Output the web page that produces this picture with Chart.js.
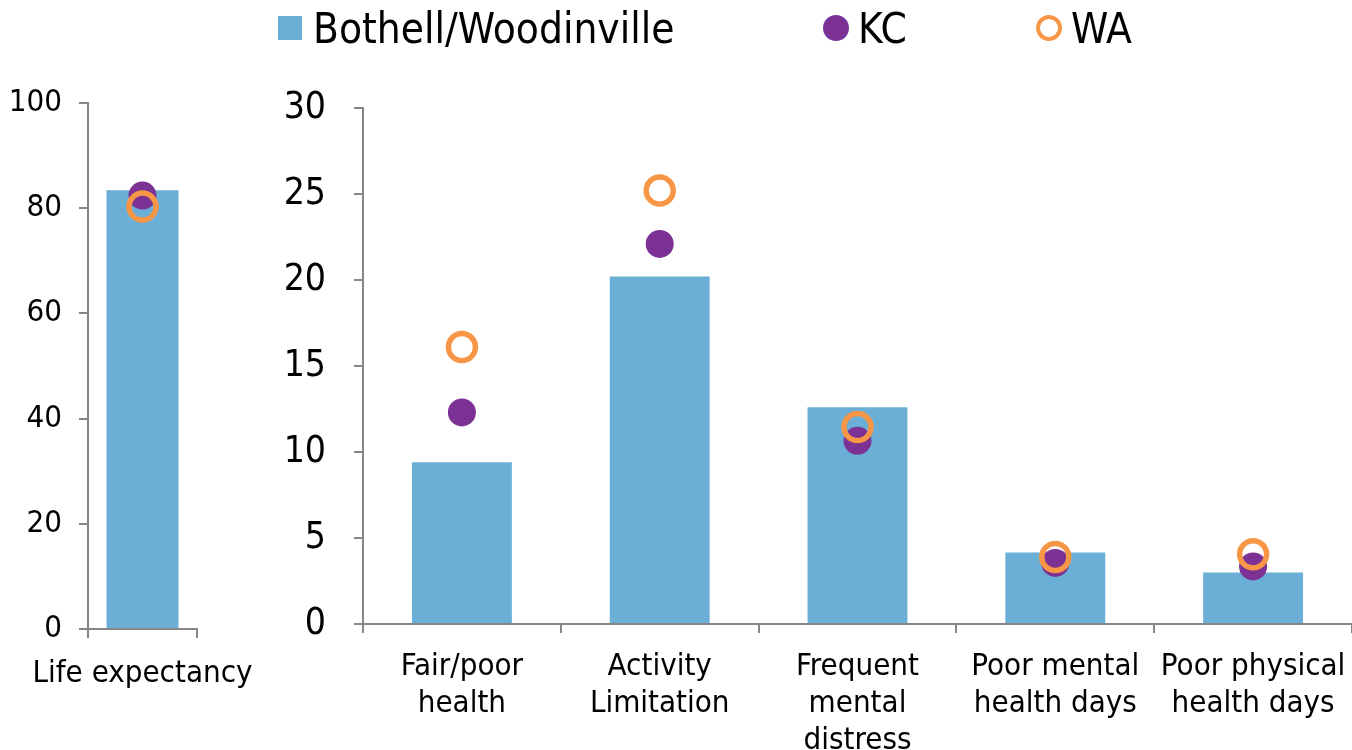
<!DOCTYPE html>
<html>
<head>
<meta charset="utf-8">
<script src="https://cdn.jsdelivr.net/npm/chart.js@4"></script>
<style>
  body { margin: 0; background: #fff; font-family: 'Liberation Sans Narrow', 'DejaVu Sans Condensed', 'Liberation Sans', sans-serif; }
  #wrap { position: relative; width: 1352px; height: 750px; overflow: hidden; }
  #leftBox { position: absolute; left: 0; top: 0; width: 270px; height: 750px; }
  #rightBox { position: absolute; left: 270px; top: 0; width: 1082px; height: 750px; }
  #legend { position: absolute; left: 0; top: 0; width: 1352px; height: 56px; }
  .item { position: absolute; top: 4px; display: flex; align-items: center; height: 48px; font-size: 42px; color: #000; }
  .box { width: 24px; height: 24px; background: #6baed6; margin-right: 11px; }
  .dot { width: 26px; height: 26px; border-radius: 50%; background: #7b3294; margin-right: 9px; }
  .ring { width: 18px; height: 18px; border-radius: 50%; border: 4px solid #f79646; margin-right: 9px; }
</style>
</head>
<body>
<div id="wrap">
  <div id="leftBox"><canvas id="leftChart"></canvas></div>
  <div id="rightBox"><canvas id="rightChart"></canvas></div>
  <div id="legend"></div>
</div>
<script>
// series names
const seriesNames = ['Bothell/Woodinville', 'KC', 'WA'];

// left panel: life expectancy (years)
const lifeLabels = ['Life expectancy'];
const lifeBothell = [83.4];
const lifeKC = [82.4];
const lifeWA = [80.3];
const lifeTicks = [0, 20, 40, 60, 80, 100];

// right panel: percent / days
const categories = [
  ['Fair/poor', 'health'],
  ['Activity', 'Limitation'],
  ['Frequent', 'mental', 'distress'],
  ['Poor mental', 'health days'],
  ['Poor physical', 'health days']
];
const bothell = [9.4, 20.2, 12.6, 4.15, 3.0];
const kc = [12.3, 22.1, 10.65, 3.55, 3.35];
const wa = [16.1, 25.2, 11.45, 3.9, 4.05];
const rightTicks = [0, 5, 10, 15, 20, 25, 30];

const BAR = '#6baed6';
const PURPLE = '#7b3294';
const ORANGE = '#f79646';
const AXIS = '#868686';
const FONT = "'Liberation Sans Narrow', 'DejaVu Sans Condensed', 'Liberation Sans', sans-serif";

// legend
const legend = document.getElementById('legend');
const legendPos = [278, 823, 1036];
const markClass = ['box', 'dot', 'ring'];
seriesNames.forEach((name, i) => {
  const el = document.createElement('div');
  el.className = 'item';
  el.style.left = legendPos[i] + 'px';
  const m = document.createElement('span');
  m.className = markClass[i];
  el.appendChild(m);
  el.appendChild(document.createTextNode(name));
  legend.appendChild(el);
});

function makeDatasets(barData, kcData, waData, barPct) {
  return [
    {
      type: 'bar',
      label: seriesNames[0],
      data: barData,
      backgroundColor: BAR,
      barPercentage: barPct,
      categoryPercentage: 1,
      order: 3
    },
    {
      type: 'line',
      label: seriesNames[1],
      data: kcData,
      showLine: false,
      pointRadius: 14,
      pointBackgroundColor: PURPLE,
      pointBorderColor: PURPLE,
      pointBorderWidth: 0,
      order: 2
    },
    {
      type: 'line',
      label: seriesNames[2],
      data: waData,
      showLine: false,
      pointRadius: 13.5,
      pointBackgroundColor: 'rgba(0,0,0,0)',
      pointBorderColor: ORANGE,
      pointBorderWidth: 5.5,
      order: 1
    }
  ];
}

function makeOptions(opts) {
  return {
    responsive: true,
    maintainAspectRatio: false,
    animation: false,
    layout: { autoPadding: false, padding: { top: opts.top, right: opts.right, left: 0, bottom: 0 } },
    plugins: { legend: { display: false }, tooltip: { enabled: false } },
    scales: {
      x: {
        offset: true,
        grid: { offset: true, drawOnChartArea: false, color: AXIS, lineWidth: 2, tickLength: 9 },
        border: { color: AXIS, width: 2 },
        ticks: { color: '#000', font: { family: FONT, size: opts.xFont }, padding: opts.xPad, maxRotation: 0, autoSkip: false },
        // labels may spill past the plot edges, like the original
        afterFit: (s) => { s.height = opts.xHeight; s.paddingLeft = 0; s.paddingRight = 0; }
      },
      y: {
        min: opts.ticks[0],
        max: opts.ticks[opts.ticks.length - 1],
        afterBuildTicks: (s) => { s.ticks = opts.ticks.map(v => ({ value: v })); },
        grid: { drawOnChartArea: false, color: AXIS, lineWidth: 2, tickLength: 9 },
        border: { color: AXIS, width: 2 },
        ticks: { color: '#000', font: { family: FONT, size: opts.yFont }, padding: opts.yPad },
        afterFit: (s) => { s.width = opts.yWidth; s.paddingTop = 0; s.paddingBottom = 0; }
      }
    }
  };
}

new Chart(document.getElementById('leftChart'), {
  type: 'bar',
  data: { labels: lifeLabels, datasets: makeDatasets(lifeBothell, lifeKC, lifeWA, 0.66) },
  options: makeOptions({ top: 103, right: 73, xHeight: 121, yWidth: 88, xFont: 31, yFont: 31, xPad: 17, yPad: 17, ticks: lifeTicks })
});

new Chart(document.getElementById('rightChart'), {
  type: 'bar',
  data: { labels: categories, datasets: makeDatasets(bothell, kc, wa, 0.505) },
  options: makeOptions({ top: 108, right: 0, xHeight: 126, yWidth: 93, xFont: 31, yFont: 37, xPad: 15, yPad: 28, ticks: rightTicks })
});
</script>
</body>
</html>
